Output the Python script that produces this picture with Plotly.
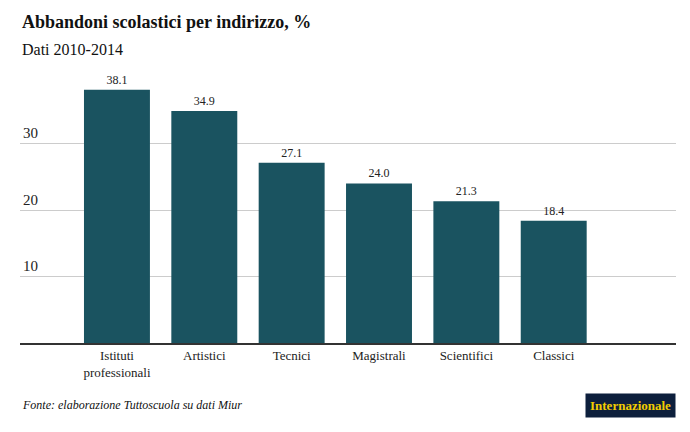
import plotly.graph_objects as go

categories = ["Istituti<br>professionali", "Artistici", "Tecnici", "Magistrali", "Scientifici", "Classici"]
values = [38.1, 34.9, 27.1, 24.0, 21.3, 18.4]
tick_vals = [10, 20, 30]

FONT = "Liberation Serif, Times New Roman, serif"

# page body has an 8px default margin: size figure so it fits the 690x432 window
W, H = 682, 424
L, T = 12, 72
PLOT_BOTTOM = 335
R = W - 668
B = H - PLOT_BOTTOM
PH = PLOT_BOTTOM - T

fig = go.Figure()
fig.add_trace(go.Bar(
    x=categories, y=values,
    marker=dict(color="#1a5360", line=dict(width=0)),
    text=[f"{v:.1f}" for v in values],
    textposition="outside",
    textfont=dict(family=FONT, size=12, color="#222"),
    cliponaxis=False,
    width=0.755,
))

fig.update_layout(
    width=W, height=H,
    margin=dict(l=L, r=R, t=T, b=B),
    paper_bgcolor="white", plot_bgcolor="white",
    showlegend=False,
    font=dict(family=FONT, color="#222"),
    xaxis=dict(
        type="category",
        range=[-1.11, 6.4],
        showgrid=False,
        showline=True, linecolor="#333", linewidth=1.5,
        ticks="", tickfont=dict(family=FONT, size=13, color="#222"),
    ),
    yaxis=dict(
        range=[0, 39.55],
        tickvals=tick_vals,
        showgrid=True, gridcolor="#cccccc", gridwidth=1,
        zeroline=False, showline=False,
        ticklabelposition="inside top",
        tickfont=dict(family=FONT, size=15, color="#222"),
        ticks="",
    ),
)

fig.add_annotation(text="<b>Abbandoni scolastici per indirizzo, %</b>", xref="paper", yref="paper",
                   x=0.0, y=1 + (T - 14) / PH, xanchor="left", yanchor="middle", showarrow=False,
                   font=dict(family=FONT, size=18, color="#111"))
fig.add_annotation(text="Dati 2010-2014", xref="paper", yref="paper",
                   x=0.0, y=1 + (T - 42) / PH, xanchor="left", yanchor="middle", showarrow=False,
                   font=dict(family=FONT, size=16, color="#111"))
fig.add_annotation(text="<i>Fonte: elaborazione Tuttoscuola su dati Miur</i>", xref="paper", yref="paper",
                   x=0.0, y=-(397 - PLOT_BOTTOM) / PH, xanchor="left", yanchor="middle", showarrow=False,
                   font=dict(family=FONT, size=12, color="#111"))
fig.add_annotation(text="<b>Internazionale</b>", xref="paper", yref="paper",
                   x=1.0, y=-(397 - PLOT_BOTTOM) / PH, xanchor="right", yanchor="middle", showarrow=False,
                   bgcolor="#0d1f3c", borderpad=4,
                   font=dict(family=FONT, size=13, color="#f2cd00"))

fig.write_html("out.html")
